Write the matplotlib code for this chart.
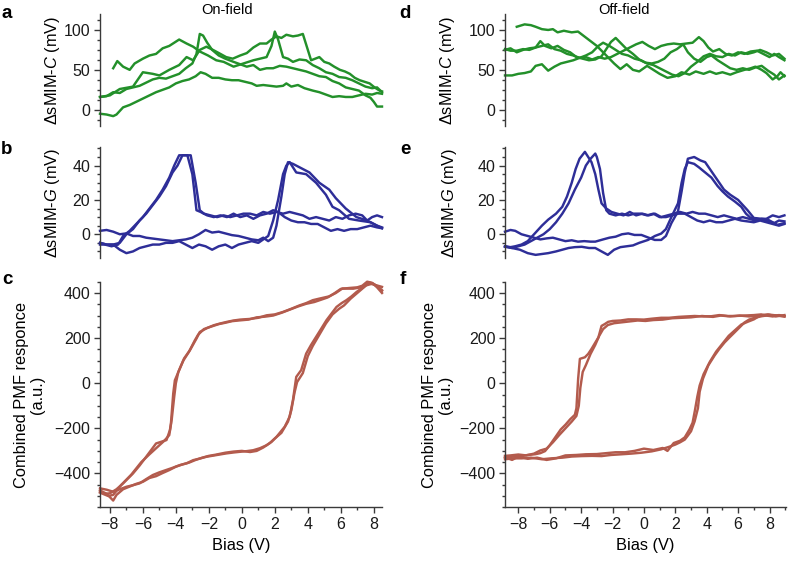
import matplotlib
matplotlib.use("Agg")
import matplotlib.pyplot as plt
from matplotlib.ticker import MultipleLocator

plt.rcParams['font.family'] = ['Liberation Sans', 'DejaVu Sans']
plt.rcParams['mathtext.fontset'] = 'custom'
plt.rcParams['mathtext.rm'] = 'Liberation Sans'
plt.rcParams['mathtext.it'] = 'Liberation Sans:italic'

# ---------------- data: (bias V, value) pairs ----------------
# a: on-field dsMIM-C (mV)
a_c1 = [(-7.8,52),(-7.55,61),(-7.2,54),(-6.8,50),(-6.5,58),(-6.0,64),(-5.6,68),(-5.2,70),(-4.8,77),(-4.4,80),
        (-3.8,88),(-3.35,83),(-2.95,79),(-2.55,73),(-2.05,68),(-1.55,62),(-1.1,60),(-0.5,54),(0.1,58),(0.7,62),
        (1.1,64),(1.5,66),(1.8,80),(2.0,98),(2.2,88),(2.5,66),(2.8,64),(3.1,60),(3.5,63),(3.9,62),(4.3,56),
        (4.7,52),(5.1,47),(5.5,45),(5.9,41),(6.3,40),(6.7,37),(7.1,33),(7.5,29),(7.9,27),(8.2,28),(8.5,22)]
a_c2 = [(-8.6,16),(-8.2,17),(-7.8,22),(-7.4,21),(-7.0,26),(-6.6,28),(-6.2,30),(-5.8,34),(-5.4,38),(-5.0,40),
        (-4.6,39),(-4.2,42),(-3.8,45),(-3.4,52),(-3.0,58),(-2.75,70),(-2.55,95),(-2.35,93),(-2.1,84),(-1.8,75),
        (-1.4,68),(-1.0,64),(-0.5,60),(-0.1,57),(0.3,54),(0.7,56),(1.1,50),(1.5,52),(1.9,52),(2.3,55),(2.7,54),
        (3.1,52),(3.5,50),(3.9,48),(4.3,45),(4.7,42),(5.1,41),(5.5,36),(5.9,33),(6.3,28),(6.7,26),(7.1,24),
        (7.5,18),(7.8,15),(8.0,10),(8.2,4),(8.5,4)]
a_c3 = [(-8.6,-5),(-8.2,-6),(-7.8,-8),(-7.6,-6),(-7.2,3),(-6.8,6),(-6.4,10),(-6.0,14),(-5.6,18),(-5.2,22),
        (-4.8,25),(-4.4,28),(-4.0,33),(-3.6,36),(-3.2,38),(-2.8,42),(-2.5,47),(-2.2,45),(-1.8,40),(-1.4,40),
        (-1.0,38),(-0.6,37),(-0.2,37),(0.2,35),(0.6,33),(0.9,30),(1.3,31),(1.7,30),(2.1,29),(2.5,30),(2.7,33),
        (3.0,29),(3.4,31),(3.8,27),(4.3,24),(4.7,22),(5.1,19),(5.5,16),(5.9,17),(6.3,16),(6.7,16),(7.1,18),
        (7.5,20),(7.9,19),(8.2,21),(8.5,20)]
a_c4 = [(-8.6,16),(-8.0,18),(-7.4,26),(-6.6,29),(-6.0,47),(-5.4,45),(-5.0,43),(-4.4,50),(-3.8,56),(-3.35,66),
        (-2.95,62),(-2.55,75),(-2.15,79),(-1.75,75),(-1.3,70),(-0.95,66),(-0.55,64),(-0.1,68),(0.3,71),(0.7,78),
        (1.1,83),(1.5,83),(1.8,88),(2.1,92),(2.4,90),(2.7,94),(3.1,92),(3.4,93),(3.7,95),(4.2,62),(4.7,66),
        (5.0,60),(5.3,58),(5.6,54),(5.95,50),(6.25,48),(6.55,45),(6.85,40),(7.15,37),(7.45,35),(7.75,33),
        (8.05,28),(8.35,24),(8.5,23)]

# b: on-field dsMIM-G (mV)
b_f1 = [(-8.6,2),(-8.2,2.5),(-7.8,1.5),(-7.4,0),(-7.0,0.5),(-6.6,-1),(-6.2,-1),(-5.8,-2),(-5.4,-2.5),(-5.0,-3),
        (-4.6,-3.5),(-4.2,-4),(-3.8,-3.5),(-3.4,-3),(-3.0,-2),(-2.6,0),(-2.2,2.5),(-1.8,1),(-1.4,1.5),(-1.0,0.5),
        (-0.6,-0.5),(-0.2,-1),(0.2,-2),(0.6,-3),(1.0,-3.5),(1.3,-2),(1.6,-4),(1.9,-2),(2.1,5),(2.4,22),(2.6,35),
        (2.8,42),(3.1,41),(3.5,39),(4.1,36),(4.7,30),(5.3,26),(5.7,21),(6.3,15),(6.95,10),(7.6,8),(8.2,5),(8.5,3.5)]
b_f2 = [(-8.6,-5),(-8.2,-6),(-7.8,-6),(-7.4,-9),(-7.0,-11),(-6.6,-10),(-6.2,-8),(-5.8,-7),(-5.4,-6),(-5.0,-6),
        (-4.6,-5),(-4.2,-5),(-3.8,-4),(-3.4,-6),(-3.0,-8),(-2.6,-6),(-2.2,-7),(-1.8,-9),(-1.4,-7),(-1.0,-6),
        (-0.6,-8),(-0.2,-6),(0.2,-5),(0.6,-4),(1.0,-5),(1.3,-3),(1.6,-1),(1.9,8),(2.2,20),(2.5,35),(2.7,40),
        (2.9,42),(3.3,36),(3.9,35),(4.5,30),(5.1,23),(5.5,16),(5.9,14),(6.5,9),(7.1,8),(7.8,7),(8.2,5),(8.5,4)]
b_b1 = [(8.5,10),(8.2,11),(7.9,10),(7.6,8),(7.3,11),(6.9,12),(6.5,11),(6.1,9),(5.7,10),(5.3,8),(4.9,9),
        (4.5,10),(4.1,9),(3.7,11),(3.3,12),(2.9,13),(2.5,12),(2.1,13),(1.7,12),(1.3,13),(0.9,11),(0.5,12),
        (0.1,12),(-0.3,11),(-0.7,10),(-1.1,11),(-1.5,10),(-1.9,11),(-2.3,12),(-2.55,14),(-2.8,30),(-3.1,46),
        (-3.6,46),(-3.9,40),(-4.2,36),(-4.6,28),(-5.0,22),(-5.4,17),(-5.8,12),(-6.2,8),(-6.6,3),(-7.0,0),
        (-7.4,-5),(-7.8,-6),(-8.2,-6),(-8.6,-5)]
b_b2 = [(8.5,3.5),(8.2,4),(7.8,5),(7.4,4),(7.0,3),(6.6,3),(6.2,2),(5.8,3),(5.4,2),(5.0,4),(4.6,6),(4.2,6),
        (3.8,7),(3.4,7),(3.0,8),(2.6,10),(2.2,13),(1.9,14),(1.5,12),(1.1,11),(0.7,9),(0.3,11),(-0.1,10),
        (-0.5,12),(-0.9,10),(-1.3,11),(-1.7,10),(-2.1,11),(-2.5,13),(-2.75,14),(-3.0,35),(-3.3,46),(-3.8,46),
        (-4.1,40),(-4.4,33),(-4.8,26),(-5.2,20),(-5.6,15),(-6.0,10),(-6.4,6),(-6.8,2),(-7.2,-1),(-7.5,-6),
        (-7.9,-7),(-8.3,-6),(-8.6,-6)]

# c: on-field combined PMF response (a.u.)
c_b1 = [(8.5,412),(8.2,430),(7.95,441),(7.65,445),(7.35,427),(6.75,419),(6.1,420),(5.7,400),(5.3,385),(4.7,375),
        (4.3,368),(3.9,355),(3.5,345),(3.0,330),(2.5,316),(2.0,305),(1.5,301),(1.0,290),(0.5,285),(-0.1,282),
        (-0.5,278),(-0.9,272),(-1.3,265),(-1.7,257),(-2.1,245),(-2.55,227),(-2.75,198),(-3.15,146),(-3.5,110),
        (-3.76,65),(-4.06,13),(-4.16,-46),(-4.3,-180),(-4.36,-208),(-4.57,-252),(-5.2,-267),(-5.8,-326),
        (-6.2,-365),(-6.6,-400),(-7.2,-444),(-7.6,-470),(-8.0,-488),(-8.3,-490),(-8.6,-481)]
c_f1 = [(-8.6,-466),(-8.2,-472),(-7.8,-481),(-7.4,-470),(-7.0,-459),(-6.6,-452),(-6.2,-444),(-5.8,-425),
        (-5.4,-407),(-5.0,-395),(-4.6,-385),(-4.2,-375),(-3.76,-363),(-3.35,-355),(-2.95,-341),(-2.55,-334),
        (-2.14,-326),(-1.5,-318),(-0.93,-311),(-0.5,-307),(-0.12,-304),(0.3,-301),(0.69,-297),(1.1,-288),
        (1.5,-275),(1.8,-260),(2.1,-238),(2.6,-193),(2.9,-149),(3.1,-75),(3.3,28),(3.6,58),(3.9,131),(4.2,170),
        (4.5,205),(4.8,240),(5.13,279),(5.45,310),(5.74,338),(6.05,355),(6.34,368),(6.65,385),(6.95,404),
        (7.25,420),(7.56,434),(7.85,440),(8.16,434),(8.5,427)]
c_b2 = [(8.5,400),(8.2,425),(7.9,445),(7.6,450),(7.3,432),(7.0,425),(6.5,422),(6.0,418),(5.6,398),(5.2,380),
        (4.8,370),(4.4,360),(3.9,352),(3.4,340),(2.9,326),(2.4,312),(1.9,300),(1.4,295),(0.9,292),(0.4,282),
        (-0.2,278),(-0.6,275),(-1.0,268),(-1.4,262),(-1.9,250),(-2.3,240),(-2.65,215),(-2.85,190),(-3.2,140),
        (-3.55,100),(-3.85,50),(-4.0,0),(-4.1,-60),(-4.25,-160),(-4.4,-230),(-4.7,-255),(-5.0,-275),
        (-5.6,-315),(-6.1,-350),(-6.7,-405),(-7.3,-450),(-7.8,-495),(-8.1,-500),(-8.6,-485)]
c_f2 = [(-8.6,-475),(-8.2,-490),(-7.8,-520),(-7.6,-495),(-7.2,-470),(-6.8,-458),(-6.4,-446),(-6.0,-437),
        (-5.6,-420),(-5.2,-412),(-4.8,-398),(-4.4,-385),(-4.0,-370),(-3.6,-360),(-3.2,-352),(-2.8,-340),
        (-2.4,-330),(-2.0,-322),(-1.6,-317),(-1.0,-308),(-0.5,-303),(0.0,-300),(0.5,-305),(0.9,-300),
        (1.3,-285),(1.7,-265),(2.0,-245),(2.4,-220),(2.8,-170),(3.0,-120),(3.2,-40),(3.35,5),(3.7,45),
        (4.0,120),(4.3,165),(4.7,215),(5.1,265),(5.5,305),(5.9,330),(6.2,345),(6.6,375),(7.0,400),(7.4,425),
        (7.7,448),(8.0,440),(8.3,425),(8.5,410)]

# d: off-field dsMIM-C (mV)
d_c1 = [(-8.1,104),(-7.6,107),(-7.2,106),(-6.9,104),(-6.5,101),(-6.1,100),(-5.8,101),(-5.5,97),(-5.1,99),
        (-4.6,97),(-4.2,98),(-3.8,92),(-3.4,86),(-3.0,80),(-2.6,72),(-2.3,66),(-1.9,58),(-1.5,51),(-1.1,57),
        (-0.7,50),(-0.3,48),(0.2,55),(0.6,50),(1.0,45),(1.5,40),(2.0,42),(2.4,47),(2.9,44),(3.3,48),(3.8,45),
        (4.2,48),(4.6,45),(5.0,47),(5.5,44),(5.9,47),(6.4,50),(6.8,52),(7.1,54),(7.5,50),(7.8,46),(8.2,38),
        (8.5,42),(8.7,47),(8.95,42)]
d_c2 = [(-8.85,43),(-8.4,43),(-8.0,45),(-7.6,46),(-7.2,48),(-6.9,55),(-6.5,57),(-6.1,49),(-5.7,54),(-5.3,58),
        (-4.9,60),(-4.5,62),(-4.1,65),(-3.7,66),(-3.3,63),(-2.9,66),(-2.5,64),(-2.1,66),(-1.7,70),(-1.3,74),
        (-0.9,78),(-0.5,82),(-0.1,85),(0.3,80),(0.7,76),(1.1,80),(1.5,82),(1.9,83),(2.3,82),(2.7,83),(3.1,84),
        (3.5,91),(3.8,86),(4.1,78),(4.4,73),(4.8,76),(5.2,70),(5.6,68),(6.0,72),(6.4,70),(6.8,73),(7.2,74),
        (7.6,70),(8.0,66),(8.3,70),(8.6,66),(8.95,62)]
d_c3 = [(-8.85,76),(-8.5,74),(-8.1,74),(-7.7,76),(-7.3,75),(-6.9,78),(-6.6,86),(-6.3,80),(-5.9,77),(-5.5,80),
        (-5.1,75),(-4.7,72),(-4.3,66),(-3.9,64),(-3.5,62),(-3.1,63),(-2.7,67),(-2.4,76),(-2.1,85),(-1.8,90),
        (-1.5,84),(-1.1,76),(-0.7,70),(-0.3,63),(0.1,59),(0.5,58),(0.9,60),(1.3,64),(1.7,72),(2.1,76),(2.5,82),
        (2.8,72),(3.2,64),(3.6,60),(4.0,66),(4.3,68),(4.7,62),(5.1,57),(5.5,52),(5.9,50),(6.3,52),(6.7,50),
        (7.1,53),(7.5,55),(7.9,49),(8.3,44),(8.6,38),(8.95,43)]
d_c4 = [(-8.85,75),(-8.5,77),(-8.1,72),(-7.7,75),(-7.3,77),(-6.9,78),(-6.5,80),(-6.1,82),(-5.7,76),(-5.3,74),
        (-4.9,70),(-4.5,68),(-4.1,65),(-3.7,68),(-3.3,72),(-2.9,80),(-2.6,84),(-2.2,80),(-1.8,75),(-1.4,70),
        (-1.0,68),(-0.6,64),(-0.2,62),(0.2,58),(0.6,56),(1.0,52),(1.4,48),(1.8,44),(2.2,42),(2.6,46),(3.0,54),
        (3.4,60),(3.8,67),(4.2,70),(4.6,67),(5.0,66),(5.4,70),(5.8,68),(6.2,72),(6.6,70),(7.0,72),(7.4,75),
        (7.8,72),(8.2,68),(8.6,70),(8.95,64)]

# e: off-field dsMIM-G (mV)
e_b1 = [(8.95,11),(8.6,10),(8.2,11),(7.8,9),(7.5,9),(7.1,8),(6.7,9),(6.3,10),(5.9,9),(5.5,10),(5.1,11),
        (4.7,10),(4.3,11),(3.9,12),(3.5,12),(3.1,13),(2.7,12),(2.3,13),(1.9,12),(1.5,11),(1.1,10),(0.7,12),
        (0.3,11),(-0.1,12),(-0.5,11),(-0.9,13),(-1.3,11),(-1.7,12),(-2.07,13),(-2.4,15),(-2.7,18),(-2.9,26),
        (-3.1,35),(-3.34,42),(-3.76,48),(-4.1,44),(-4.35,38),(-4.6,30),(-4.9,22),(-5.2,16),(-5.6,12),
        (-6.1,8.5),(-6.5,5),(-6.9,1),(-7.2,-2),(-7.4,-4),(-7.8,-6),(-8.2,-7),(-8.5,-7.5),(-8.85,-7)]
e_b2 = [(8.95,6),(8.6,5),(8.2,6),(7.8,7),(7.4,8),(7.0,7),(6.6,7.5),(6.2,8),(5.8,9),(5.4,8),(5.0,7),(4.6,7),
        (4.2,8),(3.8,7),(3.4,8),(3.0,10),(2.6,12),(2.2,12),(1.8,11),(1.4,10),(1.0,10),(0.6,12),(0.2,11),
        (-0.2,12),(-0.6,12),(-1.0,11),(-1.4,12),(-1.8,11),(-2.2,12),(-2.4,14),(-2.6,24),(-2.8,38),(-3.0,45),
        (-3.1,47),(-3.4,44),(-3.7,40),(-4.0,33),(-4.4,26),(-4.8,18),(-5.2,12),(-5.6,7),(-6.0,3),(-6.4,0),
        (-6.8,-2),(-7.2,-4),(-7.6,-6),(-8.0,-7),(-8.4,-8),(-8.85,-7)]
e_f1 = [(-8.85,1.5),(-8.5,2.5),(-8.2,2),(-7.8,0),(-7.4,-1),(-7.0,-2),(-6.6,-3),(-6.2,-2.4),(-5.8,-2),(-5.4,-3),
        (-5.0,-4),(-4.6,-3.5),(-4.2,-4.3),(-3.8,-4),(-3.4,-4.3),(-3.1,-4.3),(-2.6,-3),(-2.2,-2),(-1.8,-1.4),
        (-1.4,0),(-1.0,0.5),(-0.6,-0.4),(-0.16,-0.4),(0.3,-2),(0.69,-3.3),(1.1,-3.3),(1.4,-1),(1.75,6.5),
        (2.17,13.4),(2.4,25),(2.6,36),(2.8,44),(3.2,45),(3.6,43),(3.9,42),(4.2,38),(4.5,34),(4.8,30),(5.1,26),
        (5.5,23),(6.0,20),(6.3,17),(6.6,14),(7.0,9.5),(7.5,9),(7.9,8.5),(8.2,7),(8.5,5.5),(8.95,6.5)]
e_f2 = [(-8.85,-7.3),(-8.4,-8),(-7.9,-9),(-7.4,-11),(-6.9,-12),(-6.5,-11.5),(-6.1,-11),(-5.6,-10),(-5.2,-9),
        (-4.8,-8),(-4.4,-7.5),(-3.96,-7.3),(-3.5,-8),(-3.1,-8),(-2.7,-10),(-2.3,-12),(-1.9,-9),(-1.5,-7.5),
        (-1.1,-7),(-0.7,-6.5),(-0.3,-5),(0.26,-3.3),(0.7,-1),(1.1,0.4),(1.4,3),(1.75,10),(2.17,18),(2.4,30),
        (2.6,38),(2.8,42),(3.2,41),(3.5,39),(3.9,36),(4.3,33),(4.7,28),(5.0,25),(5.35,22),(5.8,19),(6.2,16),
        (6.5,12),(6.8,9.5),(7.1,9),(7.47,8.5),(7.9,7.5),(8.3,6.5),(8.6,8),(8.95,7.5)]

# f: off-field combined PMF response (a.u.)
f_b1 = [(8.95,298),(8.6,302),(8.2,296),(7.8,300),(7.47,305),(7.0,302),(6.4,300),(5.8,298),(5.35,298),(4.8,302),
        (4.3,297),(3.8,296),(3.23,298),(2.7,296),(2.2,294),(1.6,290),(1.1,290),(0.5,286),(0.0,282),(-0.5,283),
        (-1.0,283),(-1.5,278),(-2.0,276),(-2.28,272),(-2.5,262),(-2.7,254),(-2.9,203),(-3.1,180),(-3.34,152),
        (-3.55,130),(-3.76,115),(-4.08,108),(-4.19,20),(-4.3,-111),(-4.4,-140),(-4.7,-160),(-5.0,-184),
        (-5.3,-205),(-5.67,-242),(-6.0,-275),(-6.3,-301),(-6.6,-310),(-6.94,-315),(-7.4,-318),(-7.79,-323),
        (-8.3,-325),(-8.85,-330)]
f_f1 = [(-8.85,-337),(-8.3,-333),(-7.79,-333),(-7.2,-330),(-6.5,-337),(-5.9,-333),(-5.2,-330),(-4.6,-325),
        (-3.97,-323),(-3.3,-322),(-2.7,-323),(-2.1,-318),(-1.43,-315),(-0.8,-312),(-0.16,-308),(0.5,-302),
        (1.1,-293),(1.6,-282),(2.0,-272),(2.3,-262),(2.6,-250),(2.8,-232),(3.0,-213),(3.23,-169),(3.44,-111),
        (3.55,-38),(3.76,20),(4.1,79),(4.5,123),(4.8,152),(5.14,181),(5.45,203),(5.77,225),(6.1,248),(6.4,269),
        (6.7,282),(7.05,290),(7.5,297),(7.9,301),(8.4,300),(8.95,298)]
f_b2 = [(8.95,295),(8.5,300),(8.0,304),(7.3,300),(6.7,296),(6.1,300),(5.5,296),(4.9,300),(4.4,294),(3.7,298),
        (3.0,292),(2.4,290),(1.8,288),(1.2,282),(0.6,280),(0.1,276),(-0.4,278),(-0.9,274),(-1.4,270),(-1.9,266),
        (-2.3,258),(-2.6,240),(-2.85,210),(-3.1,170),(-3.4,130),(-3.7,80),(-3.9,50),(-4.05,-20),(-4.15,-100),
        (-4.3,-145),(-4.6,-170),(-5.0,-200),(-5.4,-230),(-5.8,-262),(-6.2,-290),(-6.6,-298),(-7.0,-312),
        (-7.5,-320),(-8.0,-316),(-8.5,-320),(-8.85,-322)]
f_f2 = [(-8.85,-328),(-8.4,-340),(-8.0,-325),(-7.4,-335),(-6.8,-330),(-6.2,-340),(-5.6,-333),(-5.0,-320),
        (-4.3,-318),(-3.7,-315),(-3.0,-314),(-2.4,-310),(-1.8,-306),(-1.2,-306),(-0.6,-300),(0.0,-290),
        (0.6,-296),(1.2,-287),(1.5,-300),(1.9,-265),(2.3,-255),(2.6,-240),(2.9,-205),(3.1,-175),(3.25,-120),
        (3.4,-60),(3.55,-10),(3.8,40),(4.2,95),(4.6,140),(5.0,175),(5.4,210),(5.8,235),(6.2,260),(6.6,272),
        (7.0,283),(7.4,300),(7.9,305),(8.4,296),(8.95,302)]

panel_letters = ['a', 'b', 'c', 'd', 'e', 'f']
column_titles = ['On-field', 'Off-field']
label_C = r'$\Delta$sMIM-$\mathit{C}$ (mV)'
label_G = r'$\Delta$sMIM-$\mathit{G}$ (mV)'
label_PMF = 'Combined PMF responce\n(a.u.)'
label_bias = 'Bias (V)'

GREEN = '#23902a'
BLUE = '#2e2e98'
BROWN = '#b35b4d'
SPINE = '#3a3a3a'
TICK_FS = 11.5
LABEL_FS = 11.8

W, H = 788, 561
fig = plt.figure(figsize=(W / 100, H / 100), dpi=100)


def frac_axes(x0, x1, ytop, ybot):
    return fig.add_axes([x0 / W, 1 - ybot / H, (x1 - x0) / W, (ybot - ytop) / H])


def style(ax, bottom=False):
    for s in ['top', 'right']:
        ax.spines[s].set_visible(False)
    ax.spines['bottom'].set_visible(bottom)
    for s in ['left', 'bottom']:
        ax.spines[s].set_color(SPINE)
        ax.spines[s].set_linewidth(1.0)
    ax.tick_params(which='both', direction='out', colors=SPINE, labelcolor='#1a1a1a',
                   labelsize=TICK_FS, width=1.0, pad=3)
    ax.tick_params(which='major', length=4)
    ax.tick_params(which='minor', length=2.5)
    if not bottom:
        ax.tick_params(axis='x', which='both', bottom=False, labelbottom=False)
    ax.patch.set_alpha(0)


def draw(ax, curves, color):
    for c in curves:
        xs = [p[0] for p in c]
        ys = [p[1] for p in c]
        ax.plot(xs, ys, color=color, lw=1.75, solid_joinstyle='round', clip_on=False)


cols = [(100, 382, (-8.6, 8.5)), (505, 786, (-8.85, 9.05))]
rows = [(14, 125.7), (146.7, 258.3), (281.7, 507.3)]
data = [[[a_c1, a_c2, a_c3, a_c4], [b_f1, b_f2, b_b1, b_b2], [c_b1, c_f1, c_b2, c_f2]],
        [[d_c1, d_c2, d_c3, d_c4], [e_b1, e_b2, e_f1, e_f2], [f_b1, f_f1, f_b2, f_f2]]]
label_x = [[-0.135, -0.135, -0.195], [-0.17, -0.165, -0.185]]

for ci, (x0, x1, xl) in enumerate(cols):
    for ri, (yt, yb) in enumerate(rows):
        ax = frac_axes(x0, x1, yt, yb)
        ax.set_xlim(*xl)
        if ri == 0:
            style(ax)
            draw(ax, data[ci][ri], GREEN)
            ax.set_ylim(-20, 120)
            ax.yaxis.set_major_locator(MultipleLocator(50))
            ax.yaxis.set_minor_locator(MultipleLocator(12.5))
            ax.set_ylabel(label_C, fontsize=LABEL_FS)
        elif ri == 1:
            style(ax)
            draw(ax, data[ci][ri], BLUE)
            ax.set_ylim(-14, 51)
            ax.yaxis.set_major_locator(MultipleLocator(20))
            ax.yaxis.set_minor_locator(MultipleLocator(5))
            ax.set_ylabel(label_G, fontsize=LABEL_FS)
        else:
            style(ax, bottom=True)
            draw(ax, data[ci][ri], BROWN)
            ax.set_ylim(-550, 450)
            ax.yaxis.set_major_locator(MultipleLocator(200))
            ax.yaxis.set_minor_locator(MultipleLocator(50))
            ax.xaxis.set_major_locator(MultipleLocator(2))
            ax.xaxis.set_minor_locator(MultipleLocator(1))
            ax.set_ylabel(label_PMF, fontsize=LABEL_FS, linespacing=1.05)
            ax.set_xlabel(label_bias, fontsize=LABEL_FS, labelpad=4)
            ax.set_xticks([-8, -6, -4, -2, 0, 2, 4, 6, 8])
            ax.set_xticklabels(['\u22128', '\u22126', '\u22124', '\u22122', '0', '2', '4', '6', '8'])
        ax.yaxis.set_label_coords(label_x[ci][ri], 0.5)

# panel letters
letter_pos = [(7, 14), (7, 149), (7, 279), (405, 14), (405, 149), (403, 279)]
for lt, (px, py) in zip(panel_letters, letter_pos):
    fig.text(px / W, 1 - py / H, lt, fontsize=13.5, fontweight='bold', ha='center', va='center')

fig.text(227 / W, 1 - 10 / H, column_titles[0], fontsize=10.5, ha='center', va='center')
fig.text(624 / W, 1 - 10 / H, column_titles[1], fontsize=10.5, ha='center', va='center')

fig.savefig('out.png', dpi=100)
